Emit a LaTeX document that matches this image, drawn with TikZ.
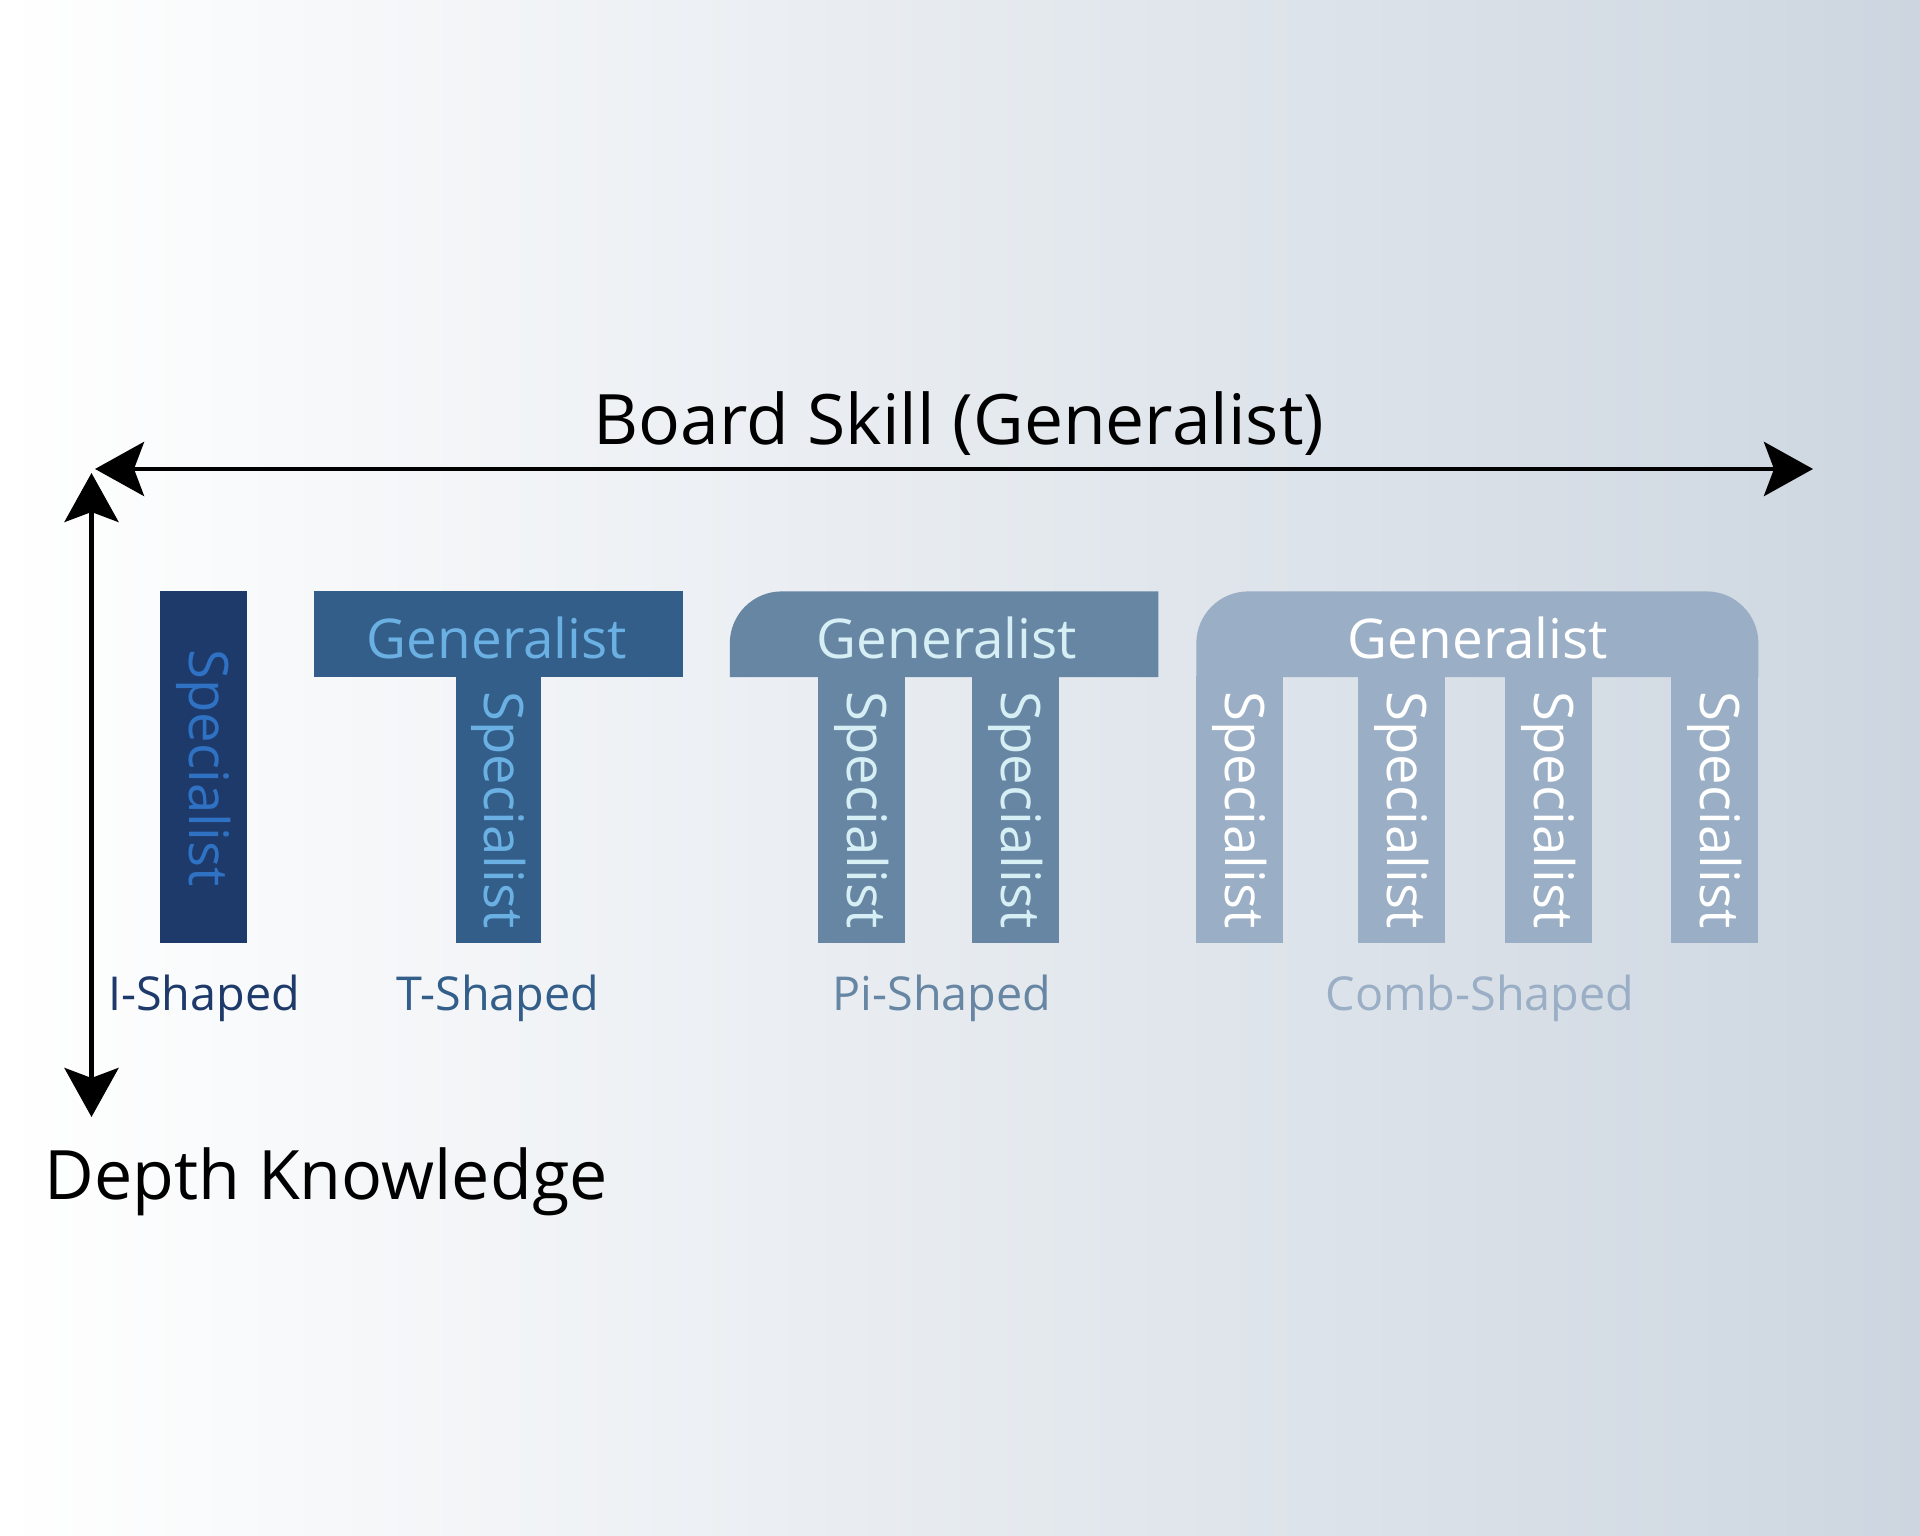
\documentclass[tikz,border=0pt]{standalone}
\usepackage{fontspec}
\setmainfont{Open Sans}
\usetikzlibrary{arrows.meta}
\definecolor{bgRight}{HTML}{CDD6E0}
\definecolor{iShape}{HTML}{1E3A6B}
\definecolor{iText}{HTML}{2F72C4}
\definecolor{tShape}{HTML}{335E89}
\definecolor{tText}{HTML}{6BB0E3}
\definecolor{piShape}{HTML}{6786A3}
\definecolor{piText}{HTML}{D6EFF5}
\definecolor{combShape}{HTML}{9AAEC5}
\begin{document}
\begin{tikzpicture}[
  axis/.style={line width=1.4pt, {Stealth[length=0.49cm,width=0.54cm,inset=0.1cm]}-{Stealth[length=0.49cm,width=0.54cm,inset=0.1cm]}},
  spec/.style={rotate=-90, inner sep=0pt, font=\fontsize{15.5}{18}\selectfont},
  gen/.style={anchor=base, inner sep=0pt, font=\fontsize{15.6}{18}\selectfont},
  lbl/.style={anchor=base, inner sep=0pt, font=\fontsize{13.3}{16}\selectfont}]
% background
\shade[left color=white, right color=bgRight] (0,0) rectangle (19.2,15.36);
\useasboundingbox (0,0) rectangle (19.2,15.36);
% axes
\coordinate (hstart) at (0.95,10.67);
\coordinate (hend) at (18.13,10.67);
\coordinate (vstart) at (0.915,10.63);
\coordinate (vend) at (0.915,4.19);
\draw[axis] (hstart) -- (hend);
\draw[axis] (vstart) -- (vend);
\node[anchor=base, inner sep=0pt, font=\fontsize{19.8}{23}\selectfont] (broad) at (9.59,10.91) {Board Skill (Generalist)};
\node[anchor=base west, inner sep=0pt, font=\fontsize{19.4}{23}\selectfont] (depth) at (0.44,3.36) {Depth Knowledge};
% I-shaped
\fill[iShape] (1.604,5.931) rectangle (2.474,9.446);
\node[spec, text=iText] (iSpec) at (2.039,7.68) {Specialist};
\node[lbl, text=iShape] (iLabel) at (2.04,5.25) {I-Shaped};
% T-shaped
\fill[tShape] (3.135,8.588) rectangle (6.833,9.446);
\fill[tShape] (4.555,5.931) rectangle (5.412,8.6);
\node[gen, text=tText] (tGen) at (4.97,8.77) {Generalist};
\node[spec, text=tText] (tSpec) at (4.984,7.26) {Specialist};
\node[lbl, text=tShape] (tLabel) at (4.98,5.25) {T-Shaped};
% Pi-shaped
\fill[piShape] (7.298,8.588) [rounded corners=0.52cm] -- (7.298,9.446) [sharp corners] -- (11.584,9.446) -- (11.584,8.588) -- cycle;
\foreach \x in {8.18,9.723} {\fill[piShape] (\x,5.931) rectangle ++(0.87,2.67);}
\node[gen, text=piText] (piGen) at (9.47,8.77) {Generalist};
\node[spec, text=piText] (piSpecA) at (8.615,7.26) {Specialist};
\node[spec, text=piText] (piSpecB) at (10.158,7.26) {Specialist};
\node[lbl, text=piShape] (piLabel) at (9.42,5.25) {Pi-Shaped};
% Comb-shaped
\fill[combShape] (11.963,8.588) [rounded corners=0.52cm] -- (11.963,9.446) -- (17.584,9.446) [sharp corners] -- (17.584,8.588) -- cycle;
\foreach \x in {11.963,13.58,15.05,16.714} {\fill[combShape] (\x,5.931) rectangle ++(0.87,2.67);}
\node[gen, text=white] (combGen) at (14.78,8.77) {Generalist};
\node[spec, text=white] (combSpecA) at (12.398,7.26) {Specialist};
\node[spec, text=white] (combSpecB) at (14.015,7.26) {Specialist};
\node[spec, text=white] (combSpecC) at (15.485,7.26) {Specialist};
\node[spec, text=white] (combSpecD) at (17.149,7.26) {Specialist};
\node[lbl, text=combShape] (combLabel) at (14.80,5.25) {Comb-Shaped};
\end{tikzpicture}
\end{document}
